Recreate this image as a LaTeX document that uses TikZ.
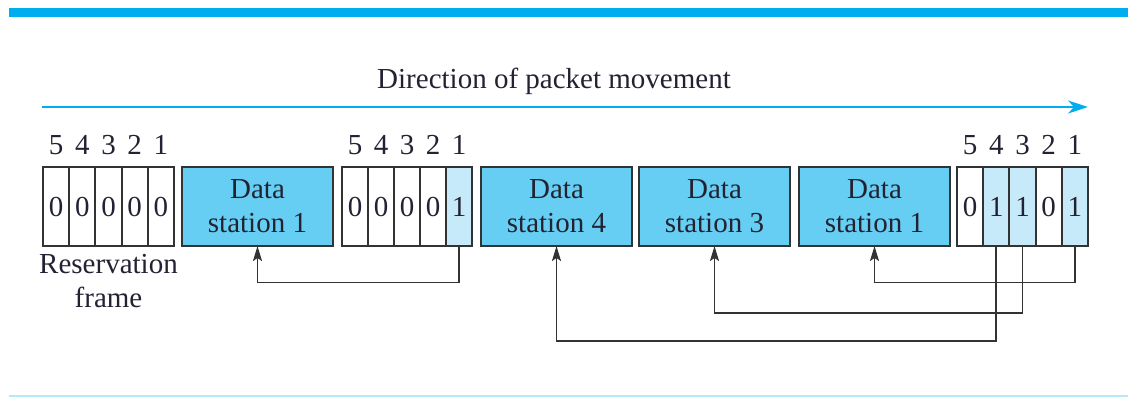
\documentclass[tikz,border=0pt]{standalone}
\usepackage{fontspec}
\setmainfont{Liberation Serif}
\usetikzlibrary{arrows.meta,positioning}
\definecolor{rulecyan}{HTML}{00AEEF}
\definecolor{rulelight}{HTML}{B3E9FA}
\definecolor{datafill}{HTML}{66CEF2}
\definecolor{bitfill}{HTML}{C6EAFA}
\definecolor{edge}{HTML}{333333}
\definecolor{ink}{HTML}{222233}
\tikzset{
  txt/.style={font=\fontsize{29}{34}\selectfont, text=ink},
  cell/.style={draw=edge, line width=1.9pt, minimum width=26.2pt, minimum height=79pt,
    inner sep=0pt, outer sep=0pt, anchor=west, txt},
  setbit/.style={cell, fill=bitfill},
  databox/.style={draw=edge, line width=1.9pt, fill=datafill, minimum width=151pt,
    minimum height=79pt, inner sep=0pt, outer sep=0pt, anchor=west, align=center, txt},
  idx/.style={txt, inner sep=0pt},
  link/.style={draw=edge, line width=1.8pt, -{Stealth[length=15pt,width=9pt,inset=3pt]}},
}
\begin{document}
\begin{tikzpicture}[x=1pt, y=-1pt]
\useasboundingbox (0,0) rectangle (1128,397);

% page rules
\fill[rulecyan] (9,7.5) rectangle (1128,16.5);
\fill[rulelight] (9,394.5) rectangle (1128,397);

% direction of travel
\coordinate (dirL) at (42,107);
\coordinate (dirR) at (1088,107);
\draw[rulecyan, line width=2.2pt, -{Stealth[length=20pt,width=13pt,inset=6pt]}] (dirL) -- (dirR);
\node[txt] (dirtext) at (554,81) {Direction of packet movement};

% reservation frame (all empty)
\foreach \i/\x in {5/43,4/69.2,3/95.4,2/121.6,1/147.8} {
  \node[cell] (a\i) at (\x,206.5) {0};
  \node[idx, above=12pt of a\i.north] (na\i) {\i};
}
\node[txt, align=center, below=5pt of a3.south] (resv) {Reservation\\frame};

\node[databox] (ds1a) at (182,206.5) {Data\\station 1};

% second reservation frame
\foreach \i/\x/\v/\s in {5/342/0/cell,4/368/0/cell,3/394/0/cell,2/420/0/cell,1/446/1/setbit} {
  \node[\s, minimum width=26pt] (b\i) at (\x,206.5) {\v};
  \node[idx, above=12pt of b\i.north] (nb\i) {\i};
}

\node[databox] (ds4) at (481,206.5) {Data\\station 4};
\node[databox] (ds3) at (639,206.5) {Data\\station 3};
\node[databox] (ds1b) at (799,206.5) {Data\\station 1};

% third reservation frame
\foreach \i/\x/\v/\s in {5/957/0/cell,4/983.2/1/setbit,3/1009.4/1/setbit,2/1035.6/0/cell,1/1061.8/1/setbit} {
  \node[\s] (c\i) at (\x,206.5) {\v};
  \node[idx, above=12pt of c\i.north] (nc\i) {\i};
}

% reservation bits pointing at the data frames they announce
\draw[link] (b1.south) -- ++(0,36.5) -| (ds1a.south);
\draw[link] (c1.south) -- ++(0,36.5) -| (ds1b.south);
\draw[link] (c3.south) -- ++(0,67) -| (ds3.south);
\draw[link] (c4.south) -- ++(0,95) -| (ds4.south);
\end{tikzpicture}
\end{document}
